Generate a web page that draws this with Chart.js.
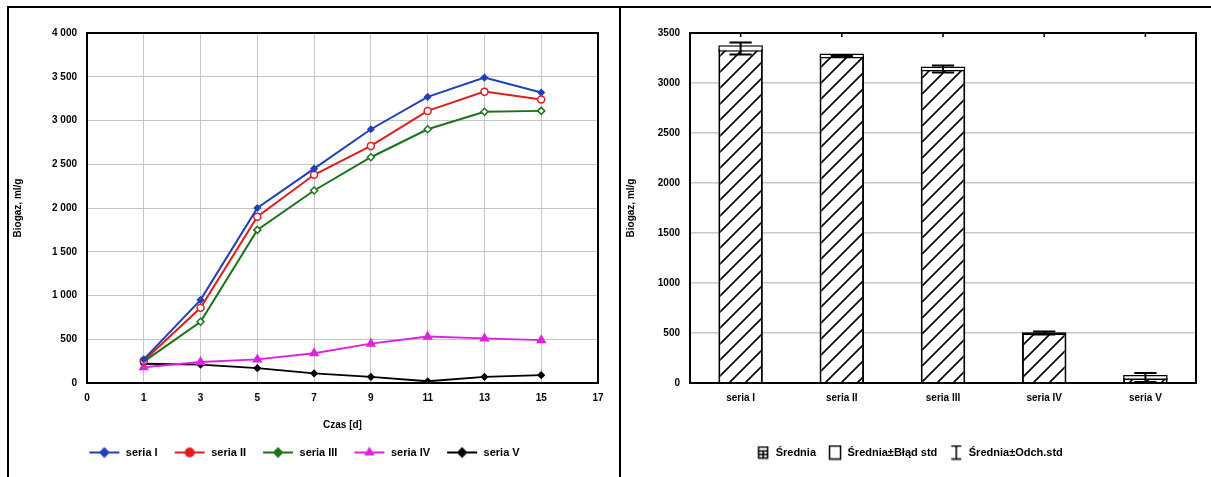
<!DOCTYPE html>
<html><head><meta charset="utf-8">
<script src="https://cdn.jsdelivr.net/npm/chart.js@4.4.1/dist/chart.umd.min.js"></script>
<style>
html,body{margin:0;padding:0;background:#fff;width:1211px;height:477px;overflow:hidden;}
#frame{position:absolute;left:7px;top:6px;width:1210px;height:480px;border-left:2px solid #000;border-top:2px solid #000;box-sizing:border-box;}
#mid{position:absolute;left:619px;top:6px;width:2px;height:480px;background:#000;}
#wl{position:absolute;left:10px;top:9px;width:608px;height:468px;}
#wr{position:absolute;left:623px;top:9px;width:588px;height:468px;}
</style>
</head><body>
<div id="frame"></div><div id="mid"></div>
<div id="wl"><canvas id="cl" width="608" height="468"></canvas></div>
<div id="wr"><canvas id="cr" width="588" height="468"></canvas></div>
<script>
// ---- left chart data ----
const xTicks = ['0','1','3','5','7','9','11','13','15','17'];
const days = ['1','3','5','7','9','11','13','15'];
const seriaI   = [270, 950, 2000, 2450, 2900, 3270, 3490, 3320];
const seriaII  = [255, 860, 1900, 2380, 2710, 3110, 3330, 3240];
const seriaIII = [245, 700, 1750, 2200, 2580, 2900, 3100, 3110];
const seriaIV  = [180, 240, 270, 340, 450, 530, 510, 490];
const seriaV   = [220, 210, 170, 110, 70, 20, 70, 90];
const lineNames = ['seria I','seria II','seria III','seria IV','seria V'];
const yMaxLeft = 4000, yStepLeft = 500;

// ---- right chart data ----
const barCats = ['seria I','seria II','seria III','seria IV','seria V'];
const barMean = [3345, 3270, 3140, 500, 55];
const barSE   = [32, 25, 25, 8, 25];
const barSD   = [60, 10, 35, 15, 45];
const yMaxRight = 3500, yStepRight = 500;
const barLegend = ['Średnia','Średnia±Błąd std','Średnia±Odch.std'];

const FONT = "'Liberation Sans', Arial, sans-serif";
Chart.defaults.font.family = FONT;
Chart.defaults.font.size = 10;
Chart.defaults.color = '#000';

const styles = [
  {c:'#1f3fbf', ps:'rectRot', r:3, fill:'#1f3fbf'},
  {c:'#e01e1e', ps:'circle', r:3.5, fill:'#ffffff'},
  {c:'#197519', ps:'rectRot', r:3.5, fill:'#ffffff'},
  {c:'#e020e0', ps:'triangle', r:4.5, fill:'#e020e0'},
  {c:'#000000', ps:'rectRot', r:3, fill:'#000000'}
];
const seriesVals = [seriaI, seriaII, seriaIII, seriaIV, seriaV];

function lineIcon(s){
  const cv = document.createElement('canvas'); cv.width = 32; cv.height = 12;
  const g = cv.getContext('2d');
  g.strokeStyle = s.c; g.lineWidth = 2;
  g.beginPath(); g.moveTo(1,6); g.lineTo(31,6); g.stroke();
  g.fillStyle = s.c;
  Chart.helpers.drawPoint(g, {pointStyle: s.ps, radius: 4, borderWidth: 1}, 16, 6);
  g.fill();
  return cv;
}

const frameBox = {
  id:'frameBox',
  afterDraw(chart){
    const a = chart.chartArea, g = chart.ctx;
    g.save(); g.strokeStyle = '#000'; g.lineWidth = 2;
    g.strokeRect(a.left, a.top, a.right - a.left, a.bottom - a.top);
    g.restore();
  }
};

const fmtSpace = v => { const s = String(v); return s.length > 3 ? s.slice(0, s.length-3) + ' ' + s.slice(-3) : s; };

new Chart(document.getElementById('cl'), {
  type: 'line',
  data: {
    labels: xTicks,
    datasets: lineNames.map((n, k) => ({
      label: n,
      data: days.map((d, i) => ({x: d, y: seriesVals[k][i]})),
      borderColor: styles[k].c,
      backgroundColor: styles[k].fill,
      pointBorderColor: styles[k].c,
      pointBackgroundColor: styles[k].fill,
      pointStyle: styles[k].ps,
      pointRadius: styles[k].r,
      pointBorderWidth: 1.5,
      borderWidth: 2,
      tension: 0
    }))
  },
  options: {
    responsive: false, animation: false,
    layout: {padding: {top: 24, right: 20, left: 0, bottom: 9}},
    plugins: {
      tooltip: {enabled: false},
      legend: {
        position: 'bottom',
        labels: {
          usePointStyle: true, pointStyleWidth: 32, padding: 16,
          font: {size: 11, weight: 'bold'},
          generateLabels: chart => lineNames.map((n, k) => ({
            text: n, pointStyle: lineIcon(styles[k]), fillStyle: styles[k].c,
            strokeStyle: styles[k].c, lineWidth: 0, datasetIndex: k, hidden: false
          }))
        }
      }
    },
    scales: {
      x: {
        type: 'category', offset: false,
        grid: {color: '#c4c4c4', lineWidth: 1, drawTicks: false},
        border: {display: false},
        ticks: {padding: 9, maxRotation: 0, autoSkip: false, font: {weight: 'bold'}},
        title: {display: true, text: 'Czas [d]', font: {size: 10, weight: 'bold'}, padding: {top: 12, bottom: 0}},
        afterFit: s => { s.height = 48; }
      },
      y: {
        min: 0, max: yMaxLeft,
        grid: {color: '#c4c4c4', lineWidth: 1, drawTicks: false},
        border: {display: false},
        ticks: {stepSize: yStepLeft, padding: 10, callback: v => fmtSpace(v), font: {weight: 'bold'}},
        title: {display: true, text: 'Biogaz, ml/g', font: {size: 10, weight: 'bold'}, padding: 2},
        afterFit: s => { s.width = 77; }
      }
    }
  },
  plugins: [frameBox]
});

// ---- right chart ----
function makeHatch(){
  const t = document.createElement('canvas'); t.width = 16; t.height = 16;
  const g = t.getContext('2d');
  g.fillStyle = '#fff'; g.fillRect(0,0,16,16);
  g.strokeStyle = '#000'; g.lineWidth = 1.6;
  g.beginPath();
  g.moveTo(-2, 18); g.lineTo(18, -2);
  g.moveTo(-2, 2); g.lineTo(2, -2);
  g.moveTo(14, 18); g.lineTo(18, 14);
  g.stroke();
  return t;
}
const hatchTile = makeHatch();
const cr = document.getElementById('cr');
const hatch = cr.getContext('2d').createPattern(hatchTile, 'repeat');

function iconMean(){
  const cv = document.createElement('canvas'); cv.width = 12; cv.height = 14;
  const g = cv.getContext('2d');
  g.fillStyle = '#fff'; g.fillRect(0,0,12,14);
  g.strokeStyle = '#000'; g.lineWidth = 1.5;
  g.strokeRect(1.5,1.5,9,11);
  g.beginPath(); g.moveTo(1.5,5.5); g.lineTo(10.5,5.5); g.moveTo(1.5,9); g.lineTo(10.5,9); g.moveTo(6,5.5); g.lineTo(6,12.5); g.stroke();
  return cv;
}
function iconBox(){
  const cv = document.createElement('canvas'); cv.width = 14; cv.height = 16;
  const g = cv.getContext('2d');
  g.strokeStyle = '#000'; g.lineWidth = 1.5;
  g.strokeRect(1.5,1.5,11,13);
  return cv;
}
function iconWhisker(){
  const cv = document.createElement('canvas'); cv.width = 12; cv.height = 16;
  const g = cv.getContext('2d');
  g.strokeStyle = '#000'; g.lineWidth = 1.5;
  g.beginPath(); g.moveTo(1,1.5); g.lineTo(11,1.5); g.moveTo(6,1.5); g.lineTo(6,14.5); g.moveTo(1,14.5); g.lineTo(11,14.5); g.stroke();
  return cv;
}
const legendIcons = [iconMean(), iconBox(), iconWhisker()];

const whiskers = {
  id: 'whiskers',
  afterDatasetsDraw(chart){
    const xs = chart.scales.x, ys = chart.scales.y, g = chart.ctx;
    const meta = chart.getDatasetMeta(1);
    g.save(); g.strokeStyle = '#000'; g.lineWidth = 2;
    barMean.forEach((m, i) => {
      const x = xs.getPixelForValue(i);
      const w = meta.data[i].width * 0.5;
      const yt = ys.getPixelForValue(m + barSD[i]);
      const yb = ys.getPixelForValue(Math.max(0, m - barSD[i]));
      g.beginPath();
      g.moveTo(x, yt); g.lineTo(x, yb);
      g.moveTo(x - w/2, yt); g.lineTo(x + w/2, yt);
      g.moveTo(x - w/2, yb); g.lineTo(x + w/2, yb);
      g.stroke();
    });
    g.restore();
  }
};
const topTicks = {
  id: 'topTicks',
  afterDraw(chart){
    const xs = chart.scales.x, a = chart.chartArea, g = chart.ctx;
    g.save(); g.strokeStyle = '#000'; g.lineWidth = 1.5;
    barCats.forEach((c, i) => {
      const x = xs.getPixelForValue(i);
      g.beginPath(); g.moveTo(x, a.top); g.lineTo(x, a.top + 4); g.stroke();
    });
    g.restore();
  }
};

new Chart(cr, {
  type: 'bar',
  data: {
    labels: barCats,
    datasets: [
      {
        label: barLegend[0], data: barMean, order: 2, grouped: false,
        backgroundColor: hatch, borderColor: '#000', borderWidth: 2,
        barPercentage: 0.44, categoryPercentage: 1
      },
      {
        label: barLegend[1], data: barMean.map((m, i) => [Math.max(0, m - barSE[i]), m + barSE[i]]),
        order: 1, grouped: false, borderSkipped: false,
        backgroundColor: '#fff', borderColor: '#000', borderWidth: 1.5,
        barPercentage: 0.44, categoryPercentage: 1
      }
    ]
  },
  options: {
    responsive: false, animation: false,
    layout: {padding: {top: 24, right: 15, left: 0, bottom: 9}},
    plugins: {
      tooltip: {enabled: false},
      legend: {
        position: 'bottom',
        labels: {
          usePointStyle: true, pointStyleWidth: 14, padding: 12,
          font: {size: 11, weight: 'bold'},
          generateLabels: chart => barLegend.map((n, k) => ({
            text: n, pointStyle: legendIcons[k], fillStyle: '#fff', strokeStyle: '#000',
            lineWidth: 0, datasetIndex: Math.min(k, 1), hidden: false
          }))
        }
      }
    },
    scales: {
      x: {
        grid: {display: false, drawTicks: false},
        border: {display: false},
        ticks: {padding: 9, font: {weight: 'bold'}},
        afterFit: s => { s.height = 52; }
      },
      y: {
        min: 0, max: yMaxRight,
        grid: {color: '#c8c8c8', lineWidth: 1.5, drawTicks: false},
        border: {display: false},
        ticks: {stepSize: yStepRight, padding: 10, callback: v => String(v), font: {weight: 'bold'}},
        title: {display: true, text: 'Biogaz, ml/g', font: {size: 10, weight: 'bold'}, padding: 2},
        afterFit: s => { s.width = 67; }
      }
    }
  },
  plugins: [frameBox, whiskers, topTicks]
});
</script>
</body></html>
